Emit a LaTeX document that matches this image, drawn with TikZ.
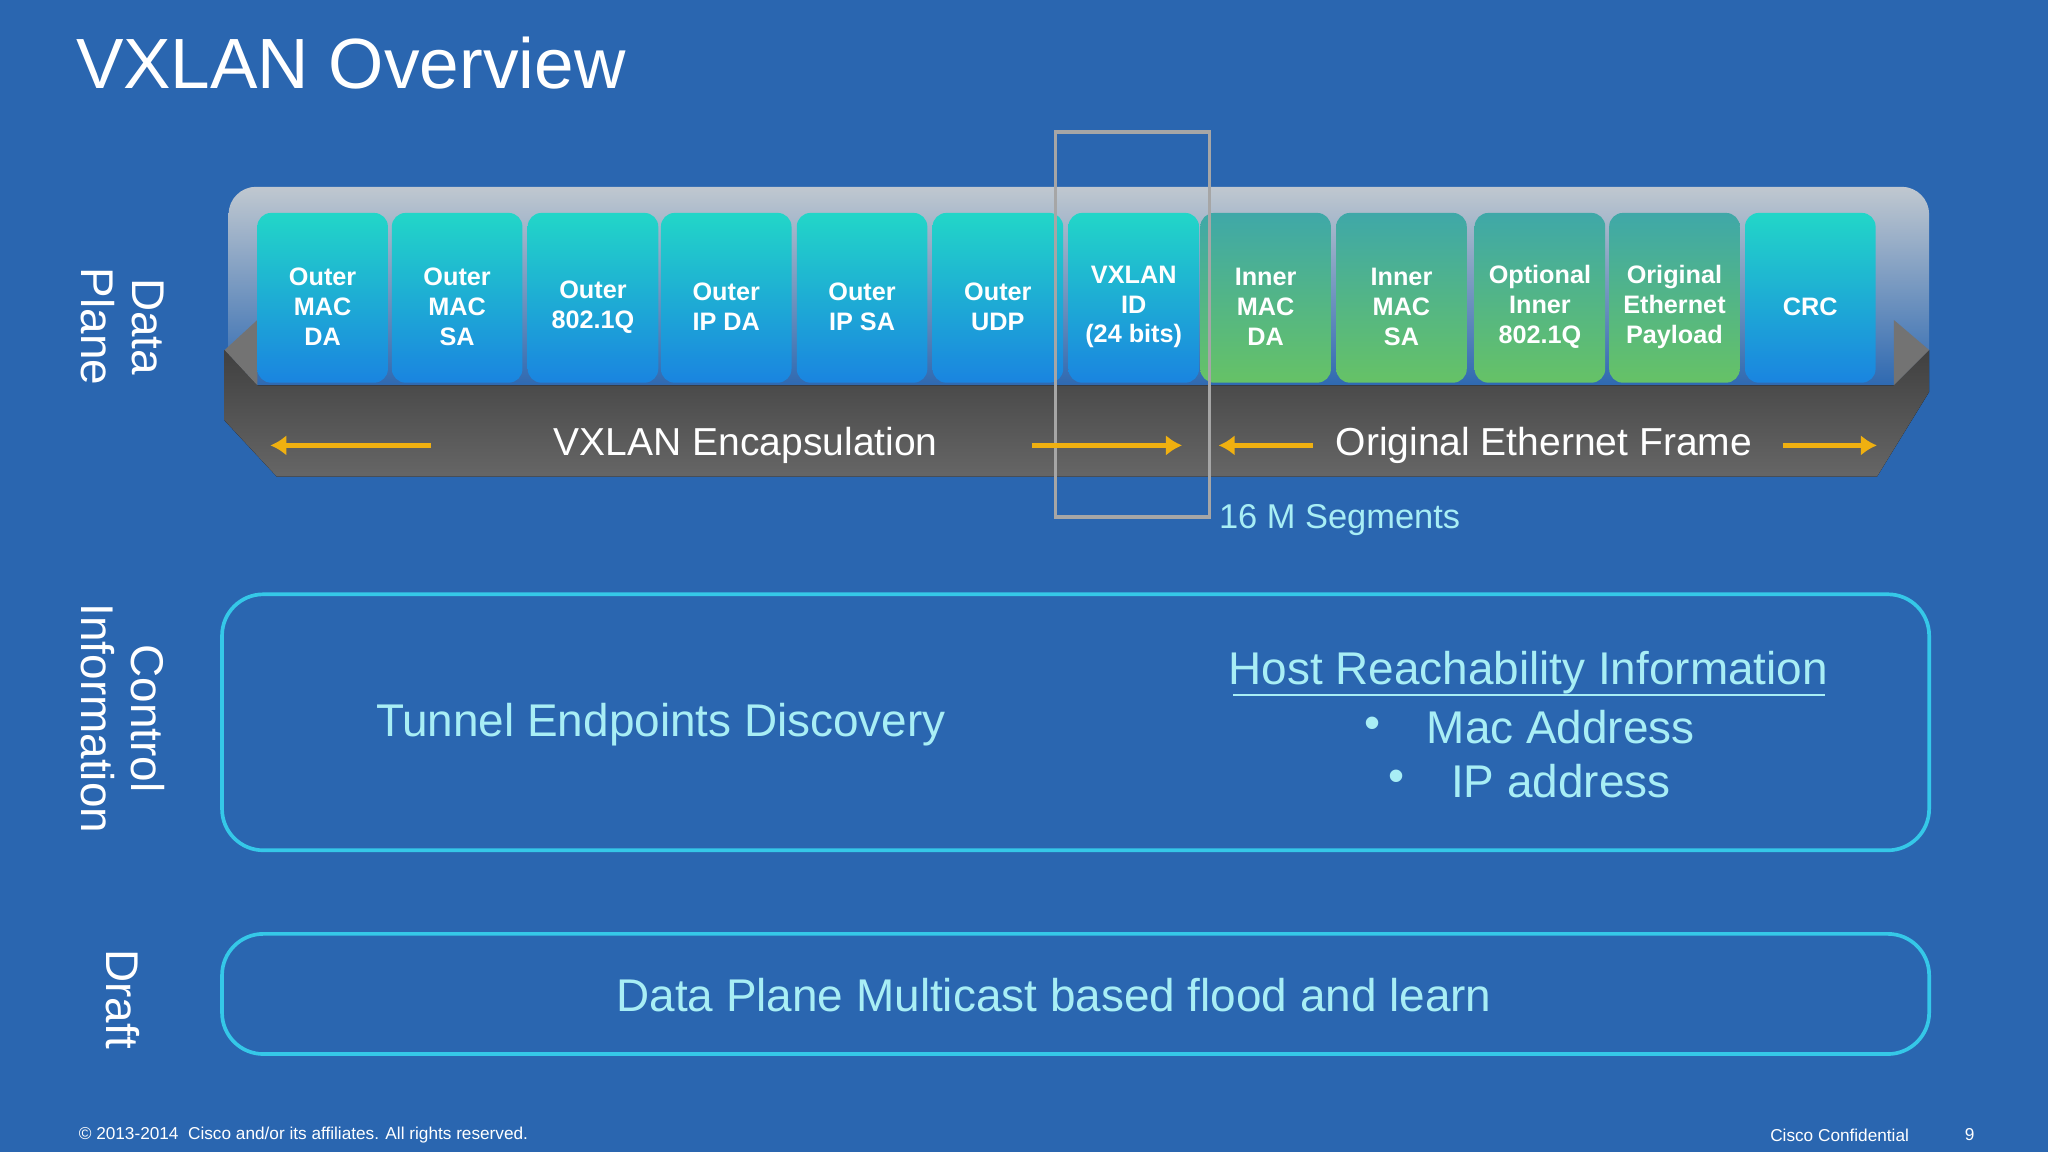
\documentclass[tikz,border=0pt]{standalone}
\usepackage{fontspec}
\setmainfont{Liberation Sans}
\usetikzlibrary{arrows.meta}
\definecolor{bg}{HTML}{2A66B0}
\definecolor{cy}{HTML}{35C8E8}
\definecolor{txt}{HTML}{A8EEF5}
\definecolor{gold}{HTML}{F0B010}
\definecolor{HTML1}{HTML}{22D6C8}
\definecolor{HTML2}{HTML}{1A84E0}
\definecolor{HTML3}{HTML}{3FA8A8}
\definecolor{HTML4}{HTML}{66C266}
\definecolor{rim}{HTML}{C0C8D0}
\begin{document}
\begin{tikzpicture}[x=0.02cm,y=-0.02cm,
  blk/.style={rounded corners=6pt,minimum width=2cm,minimum height=2.6cm,inner sep=0pt},
  bt/.style={text=white,font=\bfseries\fontsize{11}{13}\selectfont,align=center,inner sep=0pt},
  bblk/.style={blk,top color=HTML1,bottom color=HTML2},
  gblk/.style={blk,top color=HTML3,bottom color=HTML4},
  side/.style={text=white,font=\fontsize{20}{22}\selectfont,align=center,rotate=-90},
  box/.style={draw=cy,line width=1.6pt,rounded corners=18pt},
  dbl/.style={gold,line width=2.5pt,-{Latex[length=7pt,width=9pt]}}]
\fill[bg] (0,0) rectangle (1568,882);
\useasboundingbox (0,0) rectangle (1568,882);
\node[anchor=west,text=white,font=\fontsize{31}{34}\selectfont] (title) at (52,48) {VXLAN Overview};
% tray
\shade[rounded corners=12pt,top color=rim,bottom color=bg] (175,143) rectangle (1477,300);
\fill[top color=black!75,bottom color=black!60] (172,268)--(197,295)--(1450,295)--(1477,268)--(1477,300)--(1437,365)--(212,365)--(172,322)--cycle;
\fill[black!55] (172,268)--(197,245)--(197,295)--cycle;
\fill[black!55] (1477,268)--(1450,245)--(1450,295)--cycle;
% blocks
\foreach \x/\t/\n in {247/Outer\\MAC\\DA/b1,350/Outer\\MAC\\SA/b2,454/Outer\\802.1Q/b3,556/Outer\\IP DA/b4,660/Outer\\IP SA/b5,764/Outer\\UDP/b6,868/VXLAN\\ID\\(24 bits)/b7,1386/CRC/b12}
  {\node[bblk] (\n) at (\x,228) {}; \node[bt] (\n t) at (\x,235) {\t};}
\foreach \x/\t/\n in {969/Inner\\MAC\\DA/b8,1073/Inner\\MAC\\SA/b9,1179/Optional\\Inner\\802.1Q/b10,1282/Original\\Ethernet\\Payload/b11}
  {\node[gblk] (\n) at (\x,228) {}; \node[bt] (\n t) at (\x,235) {\t};}
\node[bt] at (1386,231) {};
\draw[gray!70,line width=1.6pt] (808,101) rectangle (926,396);
% arrows
\coordinate (a1) at (207,341); \coordinate (a2) at (905,341);
\coordinate (a3) at (933,341); \coordinate (a4) at (1437,341);
\draw[dbl] (330,341)--(a1); \draw[dbl] (790,341)--(a2);
\draw[dbl] (1005,341)--(a3); \draw[dbl] (1365,341)--(a4);
\node[text=white,font=\fontsize{17}{19}\selectfont,inner sep=2pt] (enc) at (571,341) {VXLAN Encapsulation};
\node[text=white,font=\fontsize{17}{19}\selectfont,inner sep=2pt] (orig) at (1182,341) {Original Ethernet Frame};
\node[anchor=west,text=txt,font=\fontsize{15}{17}\selectfont,inner sep=0pt] (seg) at (933,398) {16 M Segments};
% side labels
\node[side] (dp) at (94,250) {Data\\Plane};
\node[side] (ci) at (94,550) {Control\\Information};
\node[side] (dr) at (94,765) {Draft};
% boxes
\draw[box] (170,455) rectangle (1477,651);
\node[text=txt,font=\fontsize{20}{22}\selectfont] (ted) at (506,555) {Tunnel Endpoints Discovery};
\node[text=txt,font=\fontsize{20}{22}\selectfont] (hri) at (1170,515) {Host Reachability Information};
\draw[txt,line width=1pt] (944,532)--(1397,532);
\node[text=txt,font=\fontsize{20}{22}\selectfont] (mac) at (1195,557) {Mac Address};
\node[text=txt,font=\fontsize{20}{22}\selectfont] (ip) at (1195,598) {IP address};
\node[text=txt,font=\fontsize{20}{22}\selectfont] (bu1) at (1051,557) {•};
\node[text=txt,font=\fontsize{20}{22}\selectfont] (bu2) at (1069,598) {•};
\draw[box] (170,715) rectangle (1477,807);
\node[text=txt,font=\fontsize{20}{22}\selectfont] (mc) at (807,762) {Data Plane Multicast based flood and learn};
% footer
\node[anchor=west,text=white,font=\fontsize{7.5}{9}\selectfont,inner sep=0pt] (cp) at (60,869) {© 2013-2014\ \ Cisco and/or its affiliates. All rights reserved.};
\node[anchor=west,text=white,font=\fontsize{7.5}{9}\selectfont,inner sep=0pt] (cc) at (1355,869) {Cisco Confidential};
\node[text=white,font=\fontsize{7.5}{9}\selectfont,inner sep=0pt] (pg) at (1508,869) {9};
\end{tikzpicture}
\end{document}
